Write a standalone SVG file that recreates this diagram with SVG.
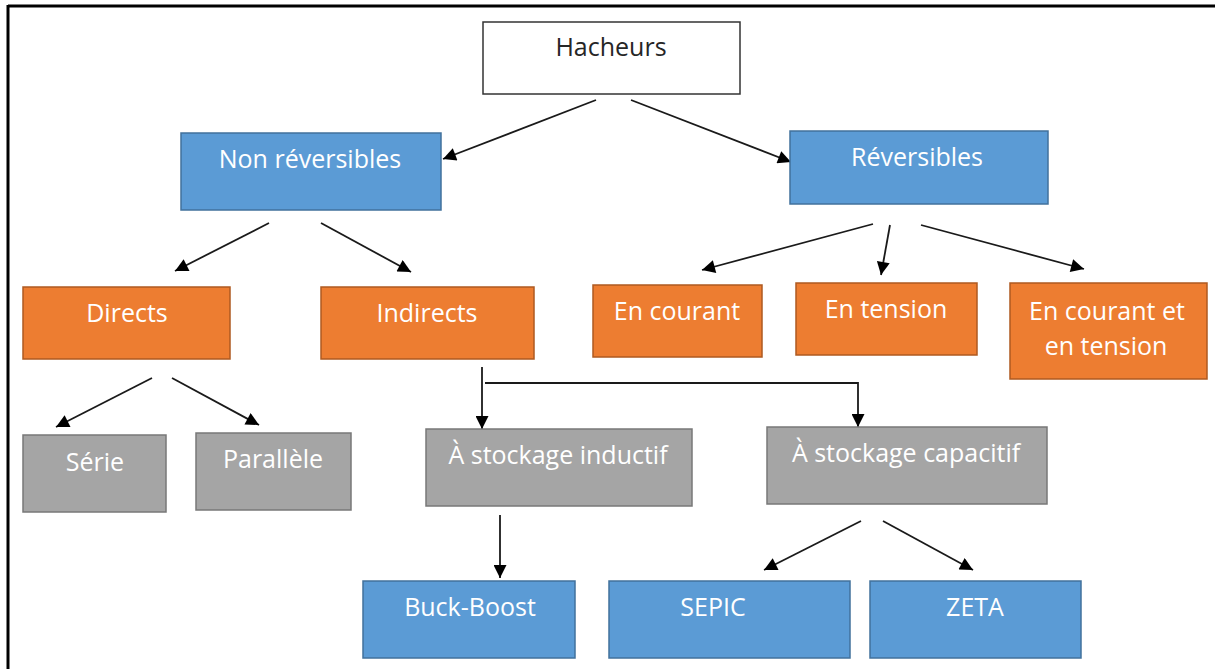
<svg xmlns="http://www.w3.org/2000/svg" width="1215" height="669" viewBox="0 0 1215 669">
<style>
.t{font-family:"Open Sans","Noto Sans",sans-serif;font-size:25px;fill:#ffffff;text-anchor:middle}
.dark{fill:#262626}
.white{fill:#ffffff;stroke:#333333;stroke-width:1.5}
.blue{fill:#5B9BD5;stroke:#41719C;stroke-width:1.5}
.orange{fill:#ED7D31;stroke:#AE5A21;stroke-width:1.5}
.gray{fill:#A5A5A5;stroke:#787878;stroke-width:1.5}
.c{fill:none;stroke:#1a1a1a;stroke-width:1.8;marker-end:url(#ah)}
</style>
<defs>
<marker id="ah" viewBox="0 0 10 10" refX="10" refY="5" markerUnits="userSpaceOnUse" markerWidth="15" markerHeight="13" orient="auto">
<path d="M0,0 L10,5 L0,10 z" fill="#000"/>
</marker>
</defs>
<rect width="1215" height="669" fill="#ffffff"/>
<g id="frame">
<line x1="8" y1="6" x2="1215" y2="6" stroke="#000" stroke-width="3"/>
<line x1="8" y1="5" x2="8" y2="669" stroke="#000" stroke-width="3"/>
</g>
<g id="connectors">
<line class="c" x1="596" y1="100" x2="443" y2="159"/>
<line class="c" x1="631" y1="100" x2="791" y2="162"/>
<line class="c" x1="269" y1="223" x2="175" y2="271"/>
<line class="c" x1="321" y1="223" x2="411" y2="272"/>
<line class="c" x1="873" y1="224" x2="702" y2="270"/>
<line class="c" x1="890" y1="225" x2="881" y2="275"/>
<line class="c" x1="921" y1="225" x2="1084" y2="269"/>
<line class="c" x1="152" y1="378" x2="56" y2="427"/>
<line class="c" x1="172" y1="378" x2="259" y2="425"/>
<line class="c" x1="482" y1="367" x2="482" y2="429"/>
<polyline class="c" points="485,383 858,383 858,427"/>
<line class="c" x1="500" y1="515" x2="500" y2="578"/>
<line class="c" x1="861" y1="521" x2="764" y2="570"/>
<line class="c" x1="883" y1="521" x2="973" y2="570"/>
</g>
<g id="hacheurs"><rect class="white" x="483" y="22" width="257" height="72"/><text class="t dark" x="611" y="56">Hacheurs</text></g>
<g id="non-reversibles"><rect class="blue" x="181" y="133" width="260" height="77"/><text class="t" x="310" y="168">Non réversibles</text></g>
<g id="reversibles"><rect class="blue" x="790" y="131" width="258" height="73"/><text class="t" x="917" y="166">Réversibles</text></g>
<g id="directs"><rect class="orange" x="23" y="287" width="207" height="72"/><text class="t" x="127" y="322">Directs</text></g>
<g id="indirects"><rect class="orange" x="321" y="287" width="213" height="72"/><text class="t" x="427" y="322">Indirects</text></g>
<g id="en-courant"><rect class="orange" x="593" y="285" width="169" height="72"/><text class="t" x="677" y="320">En courant</text></g>
<g id="en-tension"><rect class="orange" x="796" y="283" width="181" height="72"/><text class="t" x="886" y="318">En tension</text></g>
<g id="en-courant-et-en-tension"><rect class="orange" x="1010" y="283" width="197" height="96"/><text class="t" x="1107" y="320">En courant et</text><text class="t" x="1106" y="355">en tension</text></g>
<g id="serie"><rect class="gray" x="23" y="435" width="143" height="77"/><text class="t" x="95" y="471">Série</text></g>
<g id="parallele"><rect class="gray" x="196" y="433" width="155" height="77"/><text class="t" x="273" y="468">Parallèle</text></g>
<g id="stockage-inductif"><rect class="gray" x="426" y="429" width="266" height="77"/><text class="t" x="558" y="464">À stockage inductif</text></g>
<g id="stockage-capacitif"><rect class="gray" x="767" y="427" width="280" height="77"/><text class="t" x="906" y="462">À stockage capacitif</text></g>
<g id="buck-boost"><rect class="blue" x="363" y="581" width="212" height="77"/><text class="t" x="470" y="616">Buck-Boost</text></g>
<g id="sepic"><rect class="blue" x="609" y="581" width="241" height="77"/><text class="t" x="713" y="616">SEPIC</text></g>
<g id="zeta"><rect class="blue" x="870" y="581" width="211" height="77"/><text class="t" x="975" y="616">ZETA</text></g>
</svg>
